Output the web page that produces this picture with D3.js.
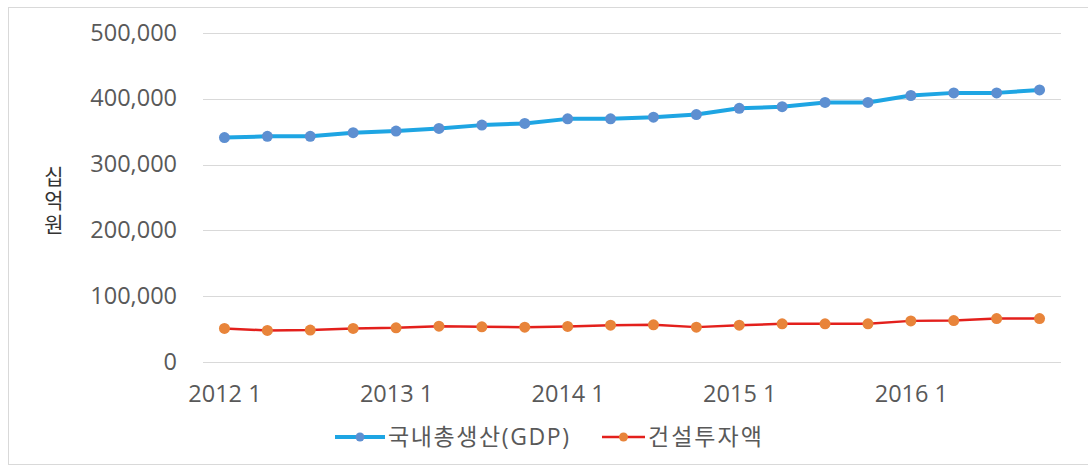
<!DOCTYPE html>
<html>
<head>
<meta charset="utf-8">
<script src="https://cdn.jsdelivr.net/npm/d3@7"></script>
<style>
  body { margin: 0; background: #fff; }
  svg text { font-family: "Open Sans", "Noto Sans CJK KR", sans-serif; }
</style>
</head>
<body>
<div id="chart"></div>
<script>
// quarters 2012 Q1 .. 2016 Q4
const quarters = ["2012 1","2012 2","2012 3","2012 4","2013 1","2013 2","2013 3","2013 4",
  "2014 1","2014 2","2014 3","2014 4","2015 1","2015 2","2015 3","2015 4",
  "2016 1","2016 2","2016 3","2016 4"];
const gdp = [341000, 343000, 343000, 348500, 351000, 355000, 360000, 362500,
  369500, 369500, 372000, 376000, 385500, 388000, 394500, 394500,
  405000, 409000, 409000, 413500];
const construction = [51000, 48000, 48500, 51000, 52000, 54500, 53500, 53000,
  54000, 56000, 56500, 53000, 56000, 58000, 58000, 58000,
  62500, 63000, 66000, 66000];
const yTicks = [0, 100000, 200000, 300000, 400000, 500000];
const xLabels = ["2012 1", "2013 1", "2014 1", "2015 1", "2016 1"];
const seriesNames = ["국내총생산(GDP)", "건설투자액"];
const yTitle = "십억원";

const W = 1088, H = 467;
const plotL = 203, plotR = 1061, plotT = 33, plotB = 362;

const svg = d3.select("#chart").append("svg").attr("width", W).attr("height", H);

// outer frame
svg.append("rect").attr("x", 8.5).attr("y", 7.5).attr("width", 1100).attr("height", 457)
  .attr("fill", "none").attr("stroke", "#d9d9d9");

const x = d3.scalePoint().domain(quarters).range([plotL, plotR]).padding(0.5);
const y = d3.scaleLinear().domain([0, 500000]).range([plotB, plotT]);

// gridlines
svg.append("g").selectAll("line").data(yTicks).enter().append("line")
  .attr("x1", plotL).attr("x2", plotR)
  .attr("y1", d => Math.round(y(d)) + 0.5).attr("y2", d => Math.round(y(d)) + 0.5)
  .attr("stroke", "#d9d9d9").attr("stroke-width", 1);

// y axis labels
const yAxis = svg.append("g").attr("transform", `translate(${plotL - 23},0)`)
  .call(d3.axisLeft(y).tickValues(yTicks).tickSize(0).tickFormat(d3.format(",")));
yAxis.select(".domain").remove();
yAxis.selectAll("text").attr("font-size", 23.5).attr("fill", "#595959").attr("dy", "0.3em");

// x axis labels
const xAxis = svg.append("g").attr("transform", `translate(0,${plotB})`)
  .call(d3.axisBottom(x).tickValues(xLabels).tickSize(0));
xAxis.select(".domain").remove();
xAxis.selectAll("text").attr("font-size", 23.5).attr("fill", "#595959")
  .attr("y", 40).attr("dy", 0);

// y title, stacked vertically
svg.append("text")
  .attr("x", 53).attr("y", 166)
  .attr("font-family", "Noto Sans CJK KR")
  .attr("font-size", 21).attr("fill", "#333")
  .style("writing-mode", "vertical-rl")
  .style("text-orientation", "upright")
  .attr("letter-spacing", 3)
  .text(yTitle);

const line = d3.line().x((d, i) => x(quarters[i])).y(d => y(d));

// GDP
svg.append("path").datum(gdp).attr("d", line)
  .attr("fill", "none").attr("stroke", "#1ea5e3").attr("stroke-width", 4).attr("stroke-linejoin", "round");
svg.append("g").selectAll("circle").data(gdp).enter().append("circle")
  .attr("cx", (d, i) => x(quarters[i])).attr("cy", d => y(d)).attr("r", 5.5)
  .attr("fill", "#5d8fd1");

// construction
svg.append("path").datum(construction).attr("d", line)
  .attr("fill", "none").attr("stroke", "#e3201c").attr("stroke-width", 2.5).attr("stroke-linejoin", "round");
svg.append("g").selectAll("circle").data(construction).enter().append("circle")
  .attr("cx", (d, i) => x(quarters[i])).attr("cy", d => y(d)).attr("r", 5.5)
  .attr("fill", "#e8843a");

// legend
const legend = [
  { name: seriesNames[0], line: "#1ea5e3", lw: 4, dot: "#5d8fd1", x0: 335, len: 50, ls: 1.6 },
  { name: seriesNames[1], line: "#e3201c", lw: 2.5, dot: "#e8843a", x0: 602, len: 43, ls: 2 }
];
const lg = svg.append("g").selectAll("g").data(legend).enter().append("g")
  .attr("transform", d => `translate(${d.x0},437)`);
lg.append("line").attr("x1", 0).attr("x2", d => d.len).attr("y1", 0).attr("y2", 0)
  .attr("stroke", d => d.line).attr("stroke-width", d => d.lw);
lg.append("circle").attr("cx", d => d.len / 2).attr("cy", 0).attr("r", 4.5).attr("fill", d => d.dot);
lg.append("text").attr("x", d => d.len + 3).attr("y", 0).attr("dy", "0.36em")
  .attr("font-family", "Noto Sans CJK KR").attr("font-size", 23).attr("fill", "#595959")
  .attr("letter-spacing", d => d.ls)
  .text(d => d.name);
</script>
</body>
</html>
